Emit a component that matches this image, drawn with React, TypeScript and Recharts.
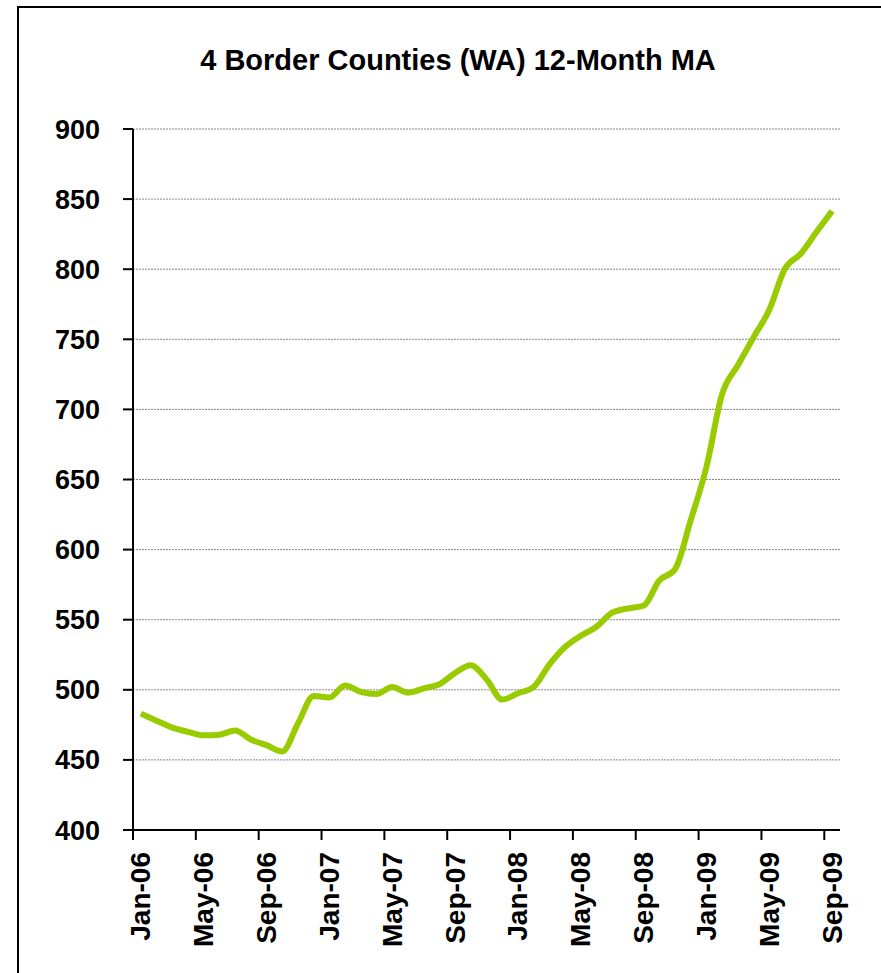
import React from 'react';
import { LineChart, Line, XAxis, YAxis, CartesianGrid } from 'recharts';

const months = [
  'Jan-06', 'Feb-06', 'Mar-06', 'Apr-06', 'May-06', 'Jun-06', 'Jul-06', 'Aug-06', 'Sep-06', 'Oct-06', 'Nov-06', 'Dec-06',
  'Jan-07', 'Feb-07', 'Mar-07', 'Apr-07', 'May-07', 'Jun-07', 'Jul-07', 'Aug-07', 'Sep-07', 'Oct-07', 'Nov-07', 'Dec-07',
  'Jan-08', 'Feb-08', 'Mar-08', 'Apr-08', 'May-08', 'Jun-08', 'Jul-08', 'Aug-08', 'Sep-08', 'Oct-08', 'Nov-08', 'Dec-08',
  'Jan-09', 'Feb-09', 'Mar-09', 'Apr-09', 'May-09', 'Jun-09', 'Jul-09', 'Aug-09', 'Sep-09',
];

// 12-month moving average
const movingAvg = [
  483, 478, 473, 470, 467.5, 468, 471, 464.5, 460.5, 456, 476, 495.5,
  494.5, 503, 498.5, 497, 502, 498, 501, 504, 512, 517.5, 507.5, 493,
  497.5, 502, 518, 530.5, 538.5, 545, 555, 558, 560, 578, 586, 621,
  659, 711, 731.5, 751.5, 771, 800.5, 811, 826.5, 841.5,
];

const yTicks = [400, 450, 500, 550, 600, 650, 700, 750, 800, 850, 900];
const xLabels = ['Jan-06', 'May-06', 'Sep-06', 'Jan-07', 'May-07', 'Sep-07', 'Jan-08', 'May-08', 'Sep-08', 'Jan-09', 'May-09', 'Sep-09'];

const title = '4 Border Counties (WA) 12-Month MA';

const data = months.map((m, i) => ({ month: m, value: movingAvg[i] }));

const FONT = '"Liberation Sans", Arial, sans-serif';
const W = 881;
const H = 973;
const PLOT_W = 707;
const HALF_BAND = PLOT_W / months.length / 2;

const MonthTick = (props: any) => {
  const { x, y, payload } = props;
  if (!xLabels.includes(payload.value)) return null;
  const tx = x - HALF_BAND;
  return (
    <g>
      <line x1={tx} y1={y - 10} x2={tx} y2={y} stroke="#000" strokeWidth={2} />
      <text
        x={x}
        y={y + 12}
        transform={`rotate(-90, ${x}, ${y + 12})`}
        textAnchor="end"
        dominantBaseline="central"
        fontFamily={FONT}
        fontWeight="bold"
        fontSize={28}
        fill="#000"
      >
        {payload.value}
      </text>
    </g>
  );
};

export default function App() {
  return (
    <div style={{ position: 'absolute', left: 0, top: 0, width: W, height: H, overflow: 'hidden', background: '#fff' }}>
      <div
        style={{
          position: 'absolute',
          left: 17,
          top: 6,
          width: 1000,
          height: 1100,
          borderLeft: '2px solid #000',
          borderTop: '2px solid #000',
        }}
      />
      <div
        style={{
          position: 'absolute',
          left: 0,
          top: 45,
          width: 916,
          textAlign: 'center',
          fontFamily: FONT,
          fontWeight: 'bold',
          fontSize: 29,
          lineHeight: '30px',
          color: '#000',
        }}
      >
        {title}
      </div>
      <div style={{ position: 'absolute', left: 0, top: 0 }}>
        <LineChart width={W} height={H} data={data} margin={{ top: 129, right: 41, bottom: 23, left: 33 }}>
          <CartesianGrid horizontal vertical={false} stroke="#888" strokeDasharray="2 1" />
          <XAxis
            dataKey="month"
            interval={0}
            height={120}
            padding={{ left: HALF_BAND, right: HALF_BAND }}
            axisLine={{ stroke: '#000', strokeWidth: 2 }}
            tickLine={false}
            tickSize={10}
            tickMargin={0}
            tick={<MonthTick />}
          />
          <YAxis
            width={100}
            domain={[400, 900]}
            ticks={yTicks}
            interval={0}
            axisLine={{ stroke: '#000', strokeWidth: 2 }}
            tickLine={{ stroke: '#000', strokeWidth: 2 }}
            tickSize={10}
            tickMargin={23}
            tick={{ fill: '#000', fontFamily: FONT, fontWeight: 'bold', fontSize: 27 }}
          />
          <Line
            type="monotone"
            dataKey="value"
            stroke="#99CC00"
            strokeWidth={6}
            dot={false}
            isAnimationActive={false}
          />
        </LineChart>
      </div>
    </div>
  );
}
